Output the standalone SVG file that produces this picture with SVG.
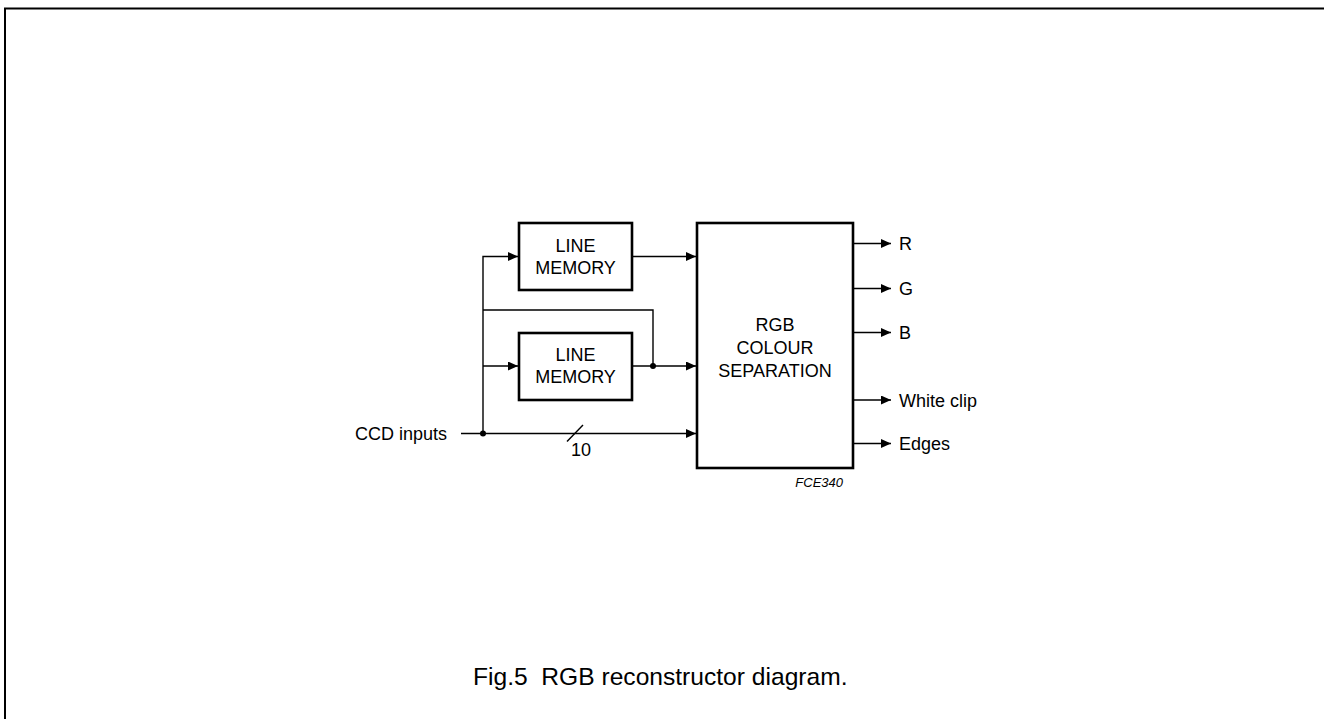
<svg xmlns="http://www.w3.org/2000/svg" width="1324" height="719" viewBox="0 0 1324 719">
<style>
text{font-family:"Liberation Sans",Arial,sans-serif;font-size:18px;fill:#000}
.c{text-anchor:middle}
.box{fill:#fff;stroke:#000;stroke-width:2.6}
.w{fill:none;stroke:#000;stroke-width:1.4}
</style>
<defs>
<marker id="a" markerWidth="10" markerHeight="9" refX="10" refY="4.5" orient="auto" markerUnits="userSpaceOnUse">
<path d="M0,0 L10,4.5 L0,9 Z" fill="#000"/>
</marker>
</defs>
<path d="M5,719 V8.5 H1324" fill="none" stroke="#000" stroke-width="2"/>
<g id="connectors">
<path class="w" d="M483,433.5 V256.5 H518" marker-end="url(#a)"/>
<path class="w" d="M483,366 H518" marker-end="url(#a)"/>
<path class="w" d="M632,256.5 H696" marker-end="url(#a)"/>
<path class="w" d="M632,366 H696" marker-end="url(#a)"/>
<path class="w" d="M653,366 V310 H483"/>
<path class="w" d="M461,433.5 H696" marker-end="url(#a)"/>
<path class="w" d="M567,441.5 L583,425"/>
<circle cx="483" cy="433.5" r="3"/>
<circle cx="653" cy="366" r="3"/>
<path class="w" d="M854,243.5 H891" marker-end="url(#a)"/>
<path class="w" d="M854,288.5 H891" marker-end="url(#a)"/>
<path class="w" d="M854,332.5 H891" marker-end="url(#a)"/>
<path class="w" d="M854,400 H891" marker-end="url(#a)"/>
<path class="w" d="M854,443.5 H891" marker-end="url(#a)"/>
</g>
<g id="mem1">
<rect class="box" x="519" y="223" width="113" height="67"/>
<text class="c" x="575.5" y="252">LINE</text>
<text class="c" x="575.5" y="274">MEMORY</text>
</g>
<g id="mem2">
<rect class="box" x="519" y="333" width="113" height="67"/>
<text class="c" x="575.5" y="361">LINE</text>
<text class="c" x="575.5" y="383">MEMORY</text>
</g>
<g id="rgb">
<rect class="box" x="697" y="223" width="156" height="245"/>
<text class="c" x="775" y="331">RGB</text>
<text class="c" x="775" y="354">COLOUR</text>
<text class="c" x="775" y="377">SEPARATION</text>
</g>
<g id="labels">
<text x="355" y="440">CCD inputs</text>
<text x="571" y="456">10</text>
<text x="899" y="250">R</text>
<text x="899" y="295">G</text>
<text x="899" y="339">B</text>
<text x="899" y="406.5">White clip</text>
<text x="899" y="450">Edges</text>
<text x="843" y="487" style="font-size:13px;font-style:italic;text-anchor:end">FCE340</text>
<text x="473" y="685" xml:space="preserve" style="font-size:24.6px">Fig.5  RGB reconstructor diagram.</text>
</g>
</svg>
